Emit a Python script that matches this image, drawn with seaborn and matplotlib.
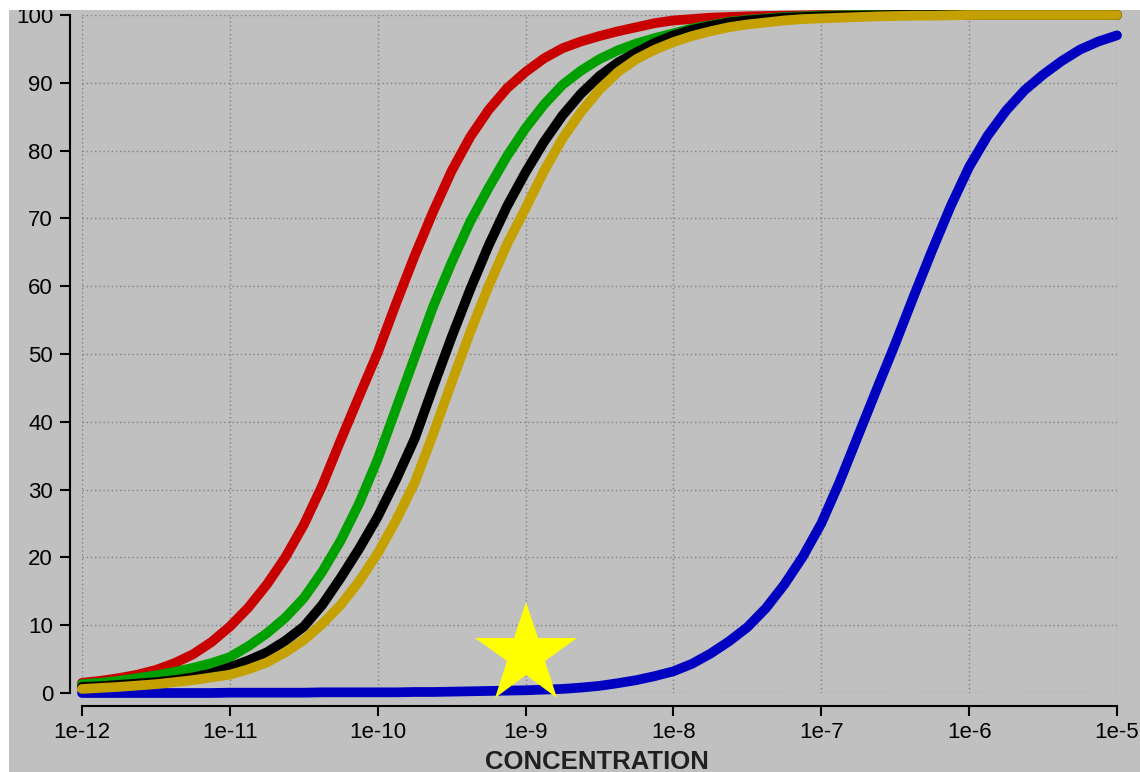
import numpy as np
import pandas as pd
import matplotlib
matplotlib.use("Agg")
import matplotlib.pyplot as plt
from matplotlib.patches import Rectangle
from matplotlib.ticker import FixedLocator, FixedFormatter, NullLocator
import seaborn as sns

# ---------------- data ----------------
# sampling positions: every 1/8 decade from 1e-12 to 1e-5
log_conc = [-12 + 0.125 * i for i in range(57)]
conc = [10.0 ** e for e in log_conc]

red = [1.5, 1.8, 2.2, 2.7, 3.4, 4.4, 5.7, 7.5, 9.8,
       12.6, 16.0, 20.0, 24.8, 30.6, 37.3, 43.8, 50.2,
       57.5, 64.5, 71.0, 77.0, 82.0, 86.0, 89.2, 91.6,
       93.6, 95.1, 96.1, 96.9, 97.6, 98.2, 98.8, 99.2,
       99.4, 99.6, 99.7, 99.8, 99.85, 99.9, 99.95, 100,
       100, 100, 100, 100, 100, 100, 100, 100,
       100, 100, 100, 100, 100, 100, 100, 100]
green = [1.3, 1.5, 1.8, 2.2, 2.6, 3.1, 3.7, 4.4, 5.3,
         6.9, 8.8, 11.1, 14.0, 17.9, 22.5, 28.0, 34.5,
         42.0, 49.5, 57.0, 63.5, 69.5, 74.5, 79.2, 83.3,
         86.8, 89.7, 91.8, 93.5, 94.8, 95.8, 96.6, 97.3,
         98.0, 98.5, 99.0, 99.3, 99.5, 99.7, 99.8, 99.9,
         99.95, 100, 100, 100, 100, 100, 100, 100,
         100, 100, 100, 100, 100, 100, 100, 100]
black = [0.9, 1.0, 1.2, 1.4, 1.6, 1.9, 2.3, 2.9, 3.8,
         4.8, 6.0, 7.7, 9.8, 13.0, 17.0, 21.3, 26.0,
         31.5, 37.5, 45.1, 52.5, 59.5, 66.0, 71.8, 76.8,
         81.3, 85.2, 88.4, 91.0, 93.0, 94.5, 95.9, 97.0,
         97.8, 98.4, 98.9, 99.2, 99.4, 99.6, 99.7, 99.8,
         99.85, 99.9, 99.95, 100, 100, 100, 100, 100,
         100, 100, 100, 100, 100, 100, 100, 100]
yellow = [0.6, 0.75, 0.9, 1.1, 1.3, 1.6, 1.9, 2.3, 2.7,
          3.5, 4.5, 6.0, 7.8, 10.2, 13.0, 16.5, 20.6,
          25.5, 31.0, 38.2, 45.8, 53.2, 60.0, 66.2, 71.5,
          77.0, 81.8, 85.7, 89.0, 91.6, 93.5, 94.9, 96.0,
          96.9, 97.6, 98.2, 98.6, 98.9, 99.2, 99.4, 99.5,
          99.6, 99.7, 99.8, 99.85, 99.9, 99.9, 99.95, 100,
          100, 100, 100, 100, 100, 100, 100, 100]
blue = [0.0, 0.0, 0.0, 0.0, 0.0, 0.0, 0.0, 0.0, 0.05,
        0.05, 0.05, 0.05, 0.05, 0.1, 0.1, 0.1, 0.1,
        0.1, 0.15, 0.15, 0.2, 0.25, 0.3, 0.35, 0.4,
        0.5, 0.6, 0.8, 1.05, 1.45, 1.9, 2.5, 3.2,
        4.3, 5.8, 7.6, 9.7, 12.5, 16.0, 20.1, 25.0,
        31.2, 38.0, 44.8, 51.5, 58.5, 65.3, 71.8, 77.6,
        82.2, 85.9, 88.9, 91.2, 93.2, 94.9, 96.1, 97.0]

series_names = ["blue", "red", "green", "black", "yellow"]
series_colors = ["#0000C0", "#C80000", "#00A000", "#000000", "#C4A000"]

star_x = [1e-9]
star_y = [5.6]

x_ticks = [1e-12, 1e-11, 1e-10, 1e-9, 1e-8, 1e-7, 1e-6, 1e-5]
x_tick_labels = ["1e-12", "1e-11", "1e-10", "1e-9", "1e-8", "1e-7", "1e-6", "1e-5"]
y_ticks = [0, 10, 20, 30, 40, 50, 60, 70, 80, 90, 100]
y_tick_labels = ["0", "10", "20", "30", "40", "50", "60", "70", "80", "90", "100"]
x_label = "CONCENTRATION"

# ---------------- figure ----------------
sns.set_style("ticks")
plt.rcParams["font.family"] = ["Liberation Sans", "DejaVu Sans"]

W, H = 1140, 772
fig = plt.figure(figsize=(W / 100, H / 100), dpi=100)
fig.patch.set_facecolor("white")
fig.patches.append(Rectangle((9 / W, 0), 1 - 9 / W, (H - 10) / H,
                             transform=fig.transFigure, facecolor="#C0C0C0",
                             edgecolor="none", zorder=-10))
# white border strips drawn above everything (top and left)
fig.patches.append(Rectangle((0, (H - 10) / H), 1, 10 / H,
                             transform=fig.transFigure, facecolor="white",
                             edgecolor="none", zorder=20))
fig.patches.append(Rectangle((0, 0), 9 / W, 1,
                             transform=fig.transFigure, facecolor="white",
                             edgecolor="none", zorder=20))

ax = fig.add_axes([82 / W, (H - 693) / H, 1035 / W, 678 / H])
ax.set_facecolor("#C0C0C0")

values = {"blue": blue, "red": red, "green": green, "black": black, "yellow": yellow}
df = pd.concat([pd.DataFrame({"conc": conc, "pct": values[n], "series": n})
                for n in series_names], ignore_index=True)

sns.lineplot(data=df, x="conc", y="pct", hue="series", hue_order=series_names,
             palette=series_colors, linewidth=7, legend=False, ax=ax,
             estimator=None, sort=False)
for ln in ax.lines:
    ln.set_clip_on(False)
    ln.set_solid_capstyle("round")
    ln.set_solid_joinstyle("round")

ax.plot(star_x, star_y, marker="*", markersize=77, color="#FFFF00",
        markeredgewidth=0, linestyle="none", clip_on=False, zorder=6)

ax.set_xscale("log")
ax.set_xlim(1e-12, 1e-5)
ax.set_ylim(0, 100)
ax.xaxis.set_major_locator(FixedLocator(x_ticks))
ax.xaxis.set_major_formatter(FixedFormatter(x_tick_labels))
ax.xaxis.set_minor_locator(NullLocator())
ax.yaxis.set_major_locator(FixedLocator(y_ticks))
ax.yaxis.set_major_formatter(FixedFormatter(y_tick_labels))
ax.yaxis.set_minor_locator(NullLocator())

ax.grid(True, which="major", color="#808080", linestyle=(0, (1, 2)), linewidth=1.0)
ax.set_axisbelow(True)

for s in ["top", "right"]:
    ax.spines[s].set_visible(False)
ax.spines["left"].set_position(("outward", 8.6))
ax.spines["bottom"].set_position(("outward", 9.4))
for s in ["left", "bottom"]:
    ax.spines[s].set_linewidth(1.5)
    ax.spines[s].set_color("black")

ax.tick_params(axis="both", direction="out", length=7.2, width=1.5,
               colors="black", labelsize=16)
ax.tick_params(axis="x", pad=4.3)
ax.tick_params(axis="y", pad=5)

ax.set_xlabel(x_label, fontsize=18.5, fontweight="bold", color="#202020")
ax.set_ylabel("")
ax.xaxis.set_label_coords((597 - 82) / 1035, (693 - 750) / 678)
ax.xaxis.label.set_va("top")

fig.savefig("out.png", dpi=100, facecolor=fig.get_facecolor())
